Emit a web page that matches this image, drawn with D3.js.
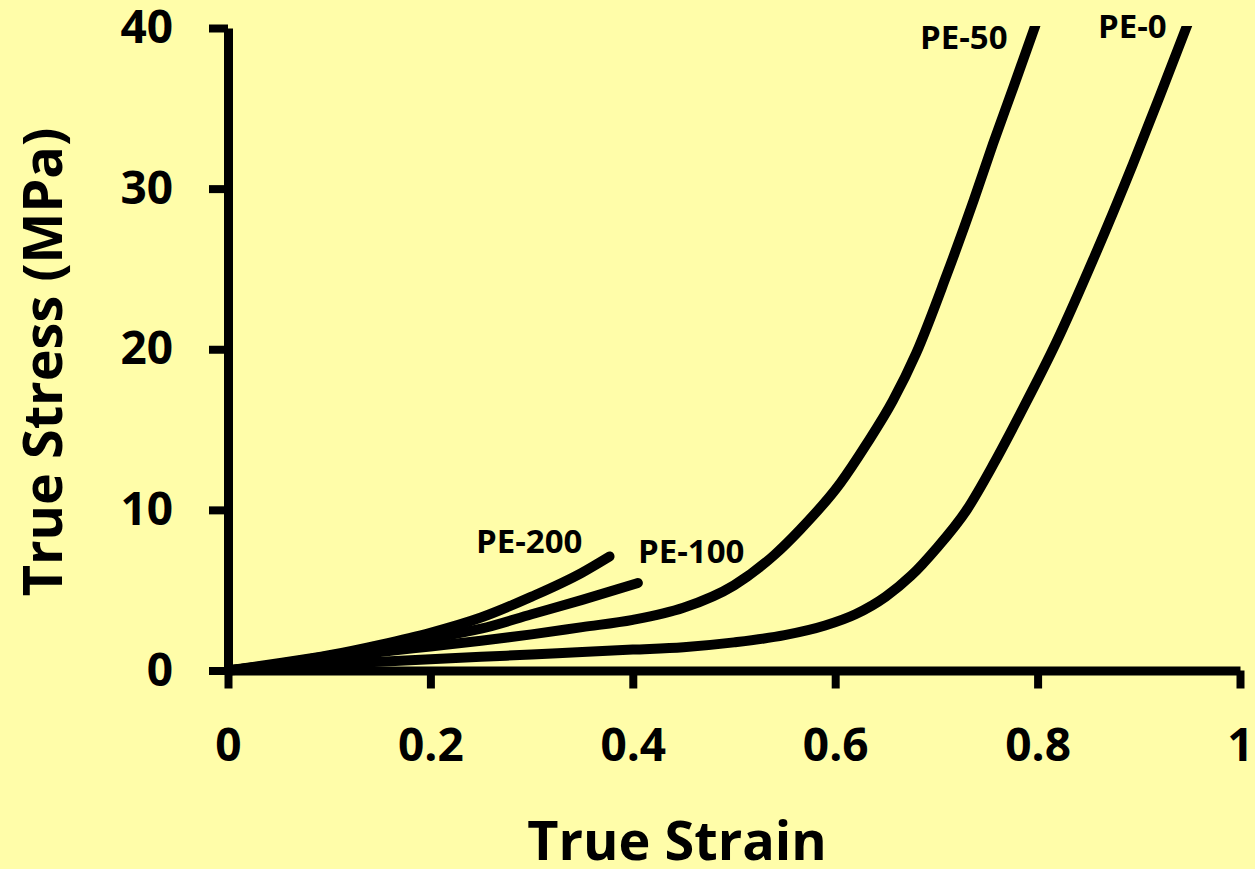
<!DOCTYPE html>
<html>
<head>
<meta charset="utf-8">
<script src="https://cdn.jsdelivr.net/npm/d3@7"></script>
<style>
  body { margin: 0; background: #fffda9; }
  text { font-family: 'Open Sans', sans-serif; font-weight: 700; fill: #000; }
</style>
</head>
<body>
<div id="chart"></div>
<script>
// set the dimensions and margins of the graph
var margin = {top: 28, right: 15, bottom: 198.5, left: 228},
    width = 1255 - margin.left - margin.right,
    height = 869 - margin.top - margin.bottom;

// curves: [true strain, true stress (MPa)]
var pe0 = [[0,0],[0.05,0.2],[0.1,0.4],[0.15,0.55],[0.2,0.7],[0.25,0.85],[0.3,1.0],[0.35,1.15],
           [0.4,1.3],[0.45,1.45],[0.5,1.75],[0.55,2.2],[0.59,2.8],[0.62,3.5],[0.65,4.6],[0.675,5.9],
           [0.7,7.6],[0.73,10.0],[0.756,12.8],[0.783,16.0],[0.819,20.5],[0.855,25.6],
           [0.894,31.5],[0.921,35.8],[0.948,40.2]];
var pe50 = [[0,0],[0.05,0.35],[0.1,0.75],[0.15,1.15],[0.2,1.5],[0.25,1.85],[0.3,2.25],[0.35,2.7],
            [0.4,3.15],[0.45,3.9],[0.5,5.3],[0.54,7.2],[0.565,8.75],[0.605,11.66],[0.631,14.1],
            [0.657,16.8],[0.68,19.75],[0.71,24.6],[0.737,29.3],[0.756,32.8],[0.776,36.3],[0.798,40.2]];
var pe100 = [[0,0],[0.05,0.4],[0.1,0.9],[0.15,1.45],[0.2,2.0],[0.25,2.6],[0.3,3.5],[0.35,4.4],[0.405,5.45]];
var pe200 = [[0,0],[0.05,0.45],[0.1,0.95],[0.15,1.6],[0.2,2.35],[0.25,3.3],[0.3,4.6],[0.35,6.1],[0.377,7.1]];

var series = [
  {name: 'PE-0',   values: pe0,   label: [1098, 38]},
  {name: 'PE-50',  values: pe50,  label: [920, 49]},
  {name: 'PE-100', values: pe100, label: [638, 563]},
  {name: 'PE-200', values: pe200, label: [476, 553]}
];

var xTicks = [0, 0.2, 0.4, 0.6, 0.8, 1];
var yTicks = [0, 10, 20, 30, 40];

// append the svg object to the body of the page
var svg = d3.select('#chart')
  .append('svg')
    .attr('width', width + margin.left + margin.right)
    .attr('height', height + margin.top + margin.bottom)
  .append('g')
    .attr('transform',
          'translate(' + margin.left + ',' + margin.top + ')');

var x = d3.scaleLinear()
  .domain([0, 1])
  .range([0, width]);

var y = d3.scaleLinear()
  .domain([0, 40])
  .range([height, 0]);

// clip curves at the top of the plot
svg.append('clipPath')
    .attr('id', 'plotClip')
  .append('rect')
    .attr('x', -10)
    .attr('y', -2)
    .attr('width', width + 20)
    .attr('height', height + 12);

// X axis
var xAxis = svg.append('g')
  .attr('transform', 'translate(0,' + height + ')')
  .call(d3.axisBottom(x).tickValues(xTicks).tickSize(18).tickSizeOuter(0)
          .tickFormat(function(d) { return d === 0 || d === 1 ? d : d.toFixed(1); }));
xAxis.select('.domain').attr('stroke-width', 9);
xAxis.selectAll('.tick line').attr('stroke-width', 8);
xAxis.selectAll('.tick text')
    .attr('y', 58)
    .style('font-size', '46px');

// Y axis
var yAxis = svg.append('g')
  .call(d3.axisLeft(y).tickValues(yTicks).tickSize(19).tickSizeOuter(0));
yAxis.select('.domain').attr('stroke-width', 9);
yAxis.selectAll('.tick line').attr('stroke-width', 8);
yAxis.selectAll('.tick text')
    .attr('x', -55)
    .style('font-size', '46px');

// curves
var line = d3.line()
  .x(function(d) { return x(d[0]); })
  .y(function(d) { return y(d[1]); })
  .curve(d3.curveMonotoneX);

svg.append('g')
    .attr('clip-path', 'url(#plotClip)')
  .selectAll('path')
  .data(series)
  .enter()
  .append('path')
    .attr('d', function(d) { return line(d.values); })
    .attr('fill', 'none')
    .attr('stroke', '#000')
    .attr('stroke-width', 10)
    .attr('stroke-linecap', 'round')
    .attr('stroke-linejoin', 'round');

// curve labels
d3.select('svg').selectAll('.curveLabel')
  .data(series)
  .enter()
  .append('text')
    .attr('class', 'curveLabel')
    .attr('x', function(d) { return d.label[0]; })
    .attr('y', function(d) { return d.label[1]; })
    .style('font-size', '33px')
    .style('font-weight', 700)
    .text(function(d) { return d.name; });

// axis titles
d3.select('svg').append('text')
    .attr('x', 677)
    .attr('y', 860)
    .attr('text-anchor', 'middle')
    .style('font-size', '54px')
    .text('True Strain');

d3.select('svg').append('text')
    .attr('transform', 'translate(62,362)rotate(-90)')
    .attr('text-anchor', 'middle')
    .style('font-size', '54px')
    .text('True Stress (MPa)');
</script>
</body>
</html>
